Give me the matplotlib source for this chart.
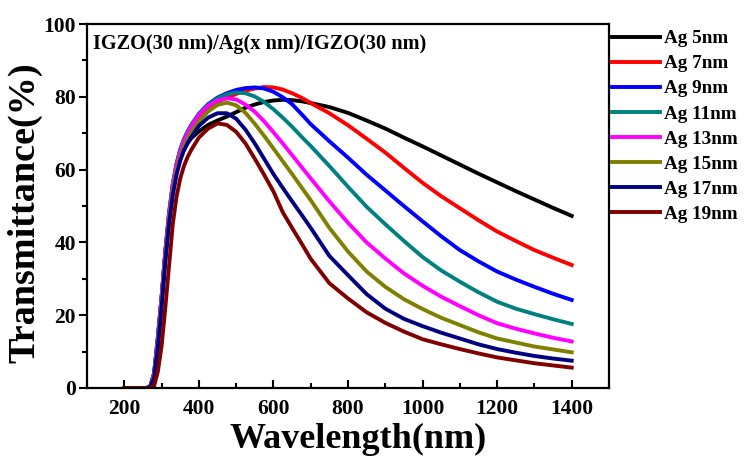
import matplotlib
matplotlib.use("Agg")
import matplotlib.pyplot as plt
from matplotlib.ticker import MultipleLocator

plt.rcParams["font.family"] = ["Liberation Serif", "DejaVu Serif"]
plt.rcParams["font.weight"] = "bold"

# ── data ──────────────────────────────────────────────────────────────────────
wavelength = [200, 260, 270,
              280, 290, 300, 310, 320, 330, 340, 350, 360, 370, 380,
              400, 425, 450, 475, 500, 525, 550, 575, 600, 625, 650, 675, 700,
              750, 800, 850, 900, 950, 1000, 1050, 1100, 1150, 1200, 1250,
              1300, 1350, 1400]

ag5 = [0, 0, 0.5,
       4, 13.5, 24.5, 37, 47, 54.5, 59.5, 63, 65.5, 67.3, 68.7,
       70.5, 72.3, 73.5, 74.6, 75.8, 77, 77.9, 78.6, 79, 79.2, 79.1, 78.8, 78.3,
       77.2, 75.6, 73.5, 71.3, 68.8, 66.4, 63.9, 61.4, 58.9, 56.5, 54.1,
       51.8, 49.5, 47.3]
ag7 = [0, 0, 0.5,
       3.8, 13, 24.5, 37, 47.5, 55.5, 61, 65, 67.8, 70, 71.8,
       74.6, 77, 78.6, 79.8, 80.8, 81.7, 82.3, 82.7, 82.6, 82, 81, 79.8, 78.3,
       75.5, 72.2, 68.5, 64.7, 60.5, 56.4, 52.7, 49.4, 46.1, 43, 40.4,
       37.9, 35.8, 33.8]
ag9 = [0, 0, 0.5,
       4, 14, 25, 37.5, 48, 56, 61.5, 65.5, 68.3, 70.5, 72.3,
       75.3, 78, 79.8, 81, 81.9, 82.4, 82.6, 82.3, 81.4, 79.9, 78, 75.3, 72.5,
       67.8, 63.3, 58.6, 54.3, 50, 45.8, 41.7, 37.9, 34.8, 32, 29.8,
       27.8, 25.9, 24.2]
ag11 = [0, 0, 0.5,
        4, 14, 25, 37.5, 48, 56, 61.5, 65.5, 68.3, 70.5, 72.3,
        75.3, 77.8, 79.6, 80.7, 81.2, 81, 80.1, 78.6, 76.6, 74.3, 71.8, 69.1, 66.5,
        61, 55.3, 49.8, 45, 40.4, 36, 32.3, 29.2, 26.3, 23.7, 21.8,
        20.3, 18.9, 17.6]
ag13 = [0, 0, 0.4,
        3.6, 13, 24.5, 37, 47.5, 55.5, 61, 65, 67.8, 70, 72,
        75, 77.5, 79, 79.6, 79.3, 77.9, 75.9, 73.3, 70.3, 67.2, 64, 60.8, 57.6,
        51.3, 45.4, 40, 35.6, 31.5, 28.1, 25.1, 22.5, 20, 17.8, 16.3,
        15, 13.8, 12.8]
ag15 = [0, 0, 0.3,
        3, 11.5, 23, 35.5, 46, 54, 59.5, 63.5, 66.3, 68.5, 70.3,
        73.3, 76, 77.8, 78.4, 77.7, 75.6, 72.6, 69.3, 65.8, 62.3, 58.8, 55.2, 51.6,
        44, 37.5, 32, 27.8, 24.4, 21.7, 19.3, 17.3, 15.3, 13.6, 12.5,
        11.4, 10.6, 9.8]
ag17 = [0, 0, 0.3,
        2.8, 11, 22, 34.5, 45, 53, 58.5, 62.5, 65.3, 67.3, 69,
        72, 74.3, 75.5, 75.5, 74, 71, 67.2, 63, 58.8, 55, 51.3, 47.7, 44,
        36.3, 31, 25.8, 21.8, 19, 17, 15.2, 13.6, 12, 10.7, 9.7,
        8.8, 8.1, 7.5]
ag19 = [0, 0, 0,
        0.6, 4.5, 11.5, 22, 33.5, 45, 52.5, 57.5, 61, 63.5, 65.5,
        68.8, 71.3, 72.7, 72.3, 70.4, 67.2, 63, 58.6, 54, 48.3, 44, 39.8, 35.5,
        28.8, 24.6, 20.8, 17.9, 15.5, 13.4, 12, 10.7, 9.5, 8.4, 7.6,
        6.8, 6.2, 5.6]

series = [ag5, ag7, ag9, ag11, ag13, ag15, ag17, ag19]
labels = ["Ag 5nm", "Ag 7nm", "Ag 9nm", "Ag 11nm",
          "Ag 13nm", "Ag 15nm", "Ag 17nm", "Ag 19nm"]
colors = ["#000000", "#ff0000", "#0000ff", "#008080",
          "#ff00ff", "#808000", "#000080", "#800000"]

# ── figure ────────────────────────────────────────────────────────────────────
fig = plt.figure(figsize=(7.52, 4.63), dpi=100)
ax = fig.add_axes([0.1157, 0.162, 0.6941, 0.786])

for y, lab, c in zip(series, labels, colors):
    ax.plot(wavelength, y, color=c, lw=2.8, label=lab, solid_joinstyle="round")

ax.set_xlim(100, 1500)
ax.set_ylim(0, 100)
ax.set_xticks(range(200, 1401, 200))
ax.xaxis.set_minor_locator(MultipleLocator(100))
ax.yaxis.set_major_locator(MultipleLocator(20))
ax.yaxis.set_minor_locator(MultipleLocator(10))

ax.tick_params(axis="x", which="major", direction="in", length=6, width=1.5,
               labelsize=15.5, pad=8)
ax.tick_params(axis="x", which="minor", direction="in", length=3.5, width=1.5)
ax.tick_params(axis="y", which="major", direction="out", length=5.5, width=1.5,
               labelsize=15.5, pad=2.5)
ax.tick_params(axis="y", which="minor", direction="out", length=3.5, width=1.5)
for s in ax.spines.values():
    s.set_linewidth(1.6)

ax.set_xlabel("Wavelength(nm)", fontsize=26, fontweight="bold")
ax.set_ylabel("Transmittance(%)", fontsize=27.5, fontweight="bold")
ax.xaxis.set_label_coords(0.519, -0.095)
ax.yaxis.set_label_coords(-0.085, 0.481)

ax.text(0.012, 0.945, "IGZO(30 nm)/Ag(x nm)/IGZO(30 nm)", transform=ax.transAxes,
        fontsize=14.6, fontweight="bold", ha="left", va="center")

ax.legend(loc="upper left", bbox_to_anchor=(1.006, 0.984), frameon=False,
          fontsize=13.8, handlelength=2.5, handletextpad=0.2, labelspacing=0.4,
          borderaxespad=0, borderpad=0)

fig.savefig("out.png", dpi=100)
